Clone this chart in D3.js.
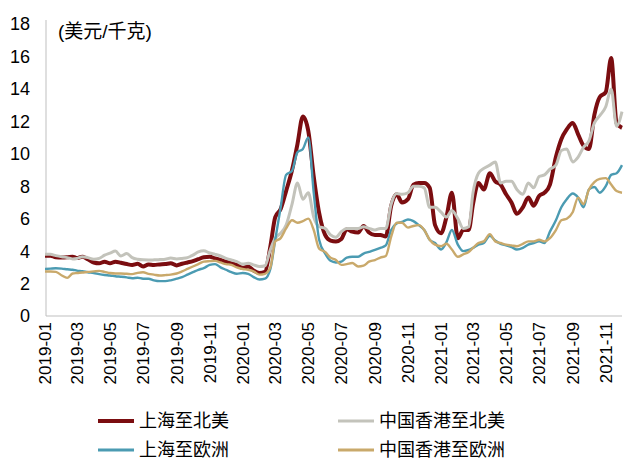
<!DOCTYPE html>
<html lang="zh-CN">
<head>
<meta charset="UTF-8" />
<title>空运价格</title>
<style>
  body { margin: 0; background: #fff; }
  svg { display: block; }
  text { font-family: "Liberation Sans", Arial, "Noto Sans CJK SC", sans-serif; fill: #000; }
</style>
<script src="https://d3js.org/d3.v7.min.js"></script>
</head>
<body>
<svg id="chart" width="640" height="472"></svg>
<script>
// ---- data: one value every ~10 days (1st, 11th, 21st), 2019-01-01 .. 2021-12-01 ----
const shanghaiNA = [
  3.72, 3.72, 3.62, 3.6, 3.62, 3.66, 3.57, 3.66, 3.5, 3.3,
  3.25, 3.35, 3.25, 3.35, 3.28, 3.2, 3.15, 3.22, 3.05, 3.18,
  3.15, 3.18, 3.2, 3.25, 3.12, 3.22, 3.3, 3.38, 3.5, 3.62,
  3.65, 3.55, 3.45, 3.35, 3.25, 3.15, 2.97, 3.05, 2.8, 2.65,
  2.72, 4.3, 6.1, 6.6, 7.7, 9.0, 10.6, 12.3, 11.4, 8.6,
  6.35, 5.0, 4.65, 4.6, 4.75, 5.35, 5.2, 5.15, 5.55, 5.15,
  5.0, 5.0, 4.9, 6.8, 7.5, 7.0, 7.2, 8.1, 8.2, 8.2,
  7.9, 5.6, 5.1, 6.1, 7.6, 4.8, 5.3, 5.3, 6.9, 8.2,
  7.8, 8.8, 8.3, 8.1, 7.5, 7.0, 6.3, 6.7, 7.3, 6.8,
  7.4, 7.6, 8.1, 9.8, 10.9, 11.5, 11.9, 11.2, 10.5, 10.3,
  12.4, 13.5, 13.8, 15.9, 11.9, 11.6
];
const hongkongNA = [
  3.8, 3.8, 3.72, 3.65, 3.6, 3.52, 3.55, 3.66, 3.6, 3.5,
  3.55, 3.75, 3.88, 4.0, 3.7, 3.85, 3.6, 3.5, 3.46, 3.45,
  3.46, 3.48, 3.5, 3.57, 3.52, 3.55, 3.6, 3.75, 3.95, 4.02,
  3.88, 3.8, 3.7, 3.55, 3.45, 3.35, 3.2, 3.25, 3.15, 3.05,
  3.1, 4.1, 4.8, 5.1, 5.6, 6.9, 8.2, 7.2, 7.6, 6.1,
  5.5, 5.4, 5.0, 4.85, 5.2, 5.4, 5.4, 5.4, 5.5, 5.4,
  5.3, 5.4, 5.4, 6.9, 7.55, 7.5, 7.6, 8.0, 8.0, 7.9,
  6.7, 6.7, 6.4, 6.1, 6.5, 6.0, 5.4, 5.5, 7.6, 8.8,
  9.1, 9.3, 9.5, 8.2, 8.3, 8.3, 7.8, 7.5, 8.2, 7.9,
  8.6, 8.7, 9.05, 9.3, 10.2, 10.3, 9.5, 9.8, 10.4, 10.8,
  11.9, 12.35, 12.9, 14.0, 11.7, 12.6
];
const shanghaiEU = [
  2.9, 2.92, 2.94, 2.92, 2.88, 2.85, 2.8, 2.76, 2.7, 2.65,
  2.58, 2.53, 2.5, 2.45, 2.42, 2.38, 2.33, 2.36, 2.3, 2.3,
  2.2, 2.15, 2.15, 2.2, 2.3, 2.4, 2.55, 2.7, 2.85, 2.95,
  3.15, 3.2, 3.0, 2.85, 2.7, 2.6, 2.65, 2.6, 2.4, 2.25,
  2.3, 2.9, 4.7, 6.7, 8.7, 8.95, 10.1, 10.3, 11.0, 7.6,
  4.7, 3.85, 3.4, 3.3, 3.35, 3.6, 3.65, 3.65, 3.85, 3.95,
  4.07, 4.2, 4.35, 5.3, 5.7, 5.8, 5.95, 5.85, 5.6, 5.3,
  4.7, 4.5, 4.1, 4.55, 5.3, 4.4, 4.0, 4.07, 4.2, 4.4,
  4.5, 4.95, 4.65, 4.45, 4.35, 4.25, 4.1, 4.2, 4.4, 4.5,
  4.6, 4.5, 5.2, 5.9, 6.7, 7.2, 7.55, 7.3, 6.7, 7.8,
  7.95, 7.6, 8.0, 8.7, 8.8, 9.3
];
const hongkongEU = [
  2.74, 2.74, 2.72, 2.5, 2.35, 2.62, 2.65, 2.68, 2.72, 2.75,
  2.78, 2.72, 2.65, 2.62, 2.62, 2.6, 2.58, 2.66, 2.7, 2.6,
  2.55, 2.5, 2.52, 2.55, 2.62, 2.75, 2.9, 3.05, 3.2, 3.35,
  3.38, 3.4, 3.3, 3.2, 3.15, 3.0, 2.9, 2.85, 2.75, 2.55,
  2.6, 3.0, 4.6, 4.8, 5.4, 5.9, 5.75, 5.85, 6.0, 5.3,
  4.15, 3.95, 3.6, 3.45, 3.15, 3.2, 3.27, 3.05, 3.1, 3.35,
  3.45, 3.6, 3.7, 4.9, 5.75, 5.75, 5.45, 5.55, 5.6, 5.3,
  4.7, 4.4, 4.3, 4.45, 4.1, 3.65, 3.8, 3.95, 4.2, 4.5,
  4.6, 5.05, 4.6, 4.5, 4.4, 4.35, 4.3, 4.45, 4.6, 4.6,
  4.7, 4.6, 4.8, 5.3, 5.9, 6.0, 6.4, 7.3, 6.9, 7.8,
  8.25, 8.45, 8.5, 8.1, 7.7, 7.6
];

const seriesNames = ["上海至北美", "中国香港至北美", "上海至欧洲", "中国香港至欧洲"];
const seriesColors = ["#7b0d10", "#c3c3bb", "#4b9bb2", "#c9a96b"];
const seriesWidths = [4, 3, 2.4, 2.4];
const yTicks = [0, 2, 4, 6, 8, 10, 12, 14, 16, 18];
const xTickLabels = ["2019-01", "2019-03", "2019-05", "2019-07", "2019-09", "2019-11",
  "2020-01", "2020-03", "2020-05", "2020-07", "2020-09", "2020-11",
  "2021-01", "2021-03", "2021-05", "2021-07", "2021-09", "2021-11"];
const unitLabel = "(美元/千克)";

// time grid: 1st, 11th, 21st of every month
const dates = [];
for (let k = 0; k < shanghaiNA.length; k++) {
  dates.push(new Date(2019, Math.floor(k / 3), 1 + (k % 3) * 10));
}
const allSeries = [shanghaiNA, hongkongNA, shanghaiEU, hongkongEU];

const svg = d3.select("#chart");
const parseMonth = d3.timeParse("%Y-%m");

const x = d3.scaleTime()
  .domain([new Date(2019, 0, 1), new Date(2021, 11, 1)])
  .range([45, 622]);
const y = d3.scaleLinear().domain([0, 18]).range([316, 24]);

// axis lines, no tick marks
svg.append("line").attr("x1", 46).attr("x2", 46).attr("y1", y(18) - 4).attr("y2", y(0))
  .attr("stroke", "#bfbfbf").attr("stroke-width", 1);
svg.append("line").attr("x1", 46).attr("x2", 622).attr("y1", y(0)).attr("y2", y(0))
  .attr("stroke", "#bfbfbf").attr("stroke-width", 1);

// y tick labels
svg.selectAll("text.ytick")
  .data(yTicks)
  .enter().append("text")
  .attr("class", "ytick")
  .attr("x", 30)
  .attr("y", d => y(d))
  .attr("dy", "0.36em")
  .attr("text-anchor", "end")
  .attr("font-size", 18)
  .text(d => d);

// x tick labels (rotated)
svg.selectAll("text.xtick")
  .data(xTickLabels)
  .enter().append("text")
  .attr("class", "xtick")
  .attr("text-anchor", "end")
  .attr("font-size", 17)
  .attr("transform", d => `translate(${x(parseMonth(d)) + 6},322) rotate(-90)`)
  .text(d => d);

// unit label
svg.append("text")
  .attr("x", 58).attr("y", 38)
  .attr("font-size", 19)
  .text(unitLabel);

// lines
const line = d3.line()
  .x((d, i) => x(dates[i]))
  .y(d => y(d))
  .curve(d3.curveMonotoneX);

allSeries.forEach((vals, s) => {
  svg.append("path")
    .datum(vals)
    .attr("fill", "none")
    .attr("stroke", seriesColors[s])
    .attr("stroke-width", seriesWidths[s])
    .attr("stroke-linejoin", "round")
    .attr("d", line);
});

// legend
const legendPos = [[98, 421], [338, 421], [98, 450], [338, 450]];
seriesNames.forEach((name, s) => {
  const [lx, ly] = legendPos[s];
  svg.append("line")
    .attr("x1", lx).attr("x2", lx + 36).attr("y1", ly).attr("y2", ly)
    .attr("stroke", seriesColors[s])
    .attr("stroke-width", s === 0 ? 4 : 3);
  svg.append("text")
    .attr("x", lx + 41).attr("y", ly)
    .attr("dy", "0.36em")
    .attr("font-size", 18)
    .text(name);
});
</script>
</body>
</html>
